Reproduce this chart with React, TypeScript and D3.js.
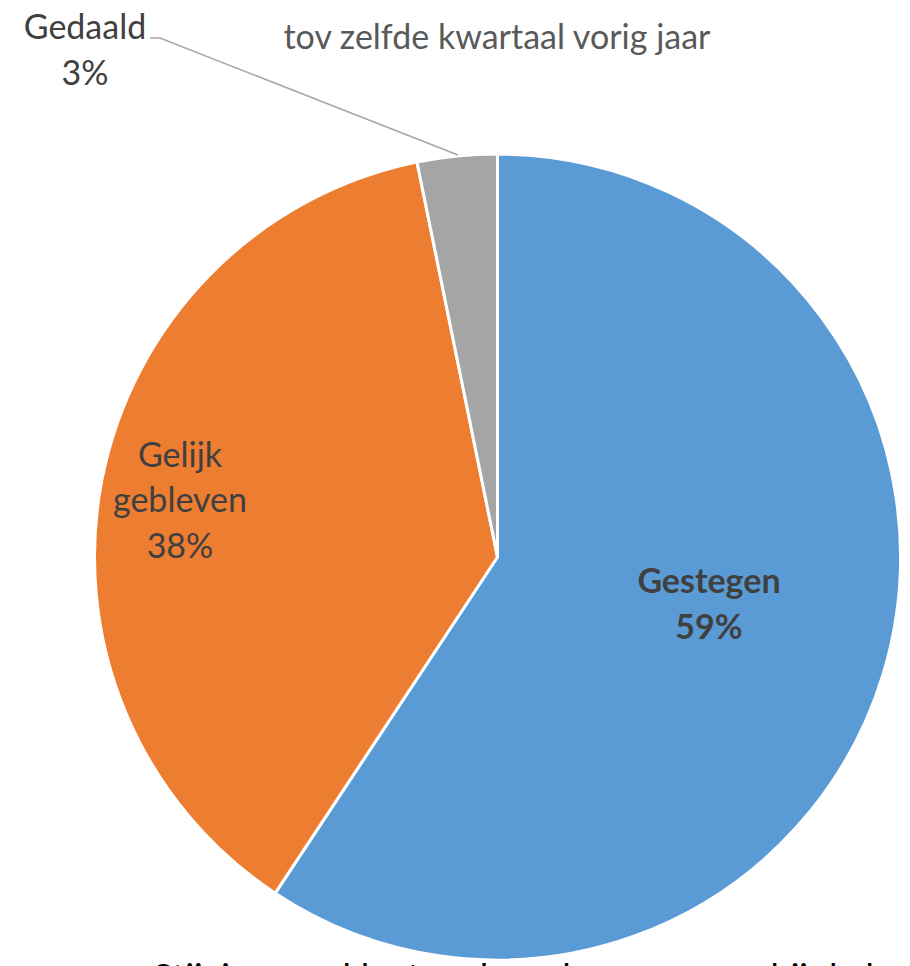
import React from "react";
import * as d3 from "d3";

const categories = ["Gestegen", "Gelijk gebleven", "Gedaald"];
const values = [59.3, 37.5, 3.2];
const labels = ["59%", "38%", "3%"];
const colors = ["#5B9BD5", "#ED7D31", "#A5A5A5"];
const title = "tov zelfde kwartaal vorig jaar";
const footer = "Stijging van klanten door de aanvragen bij de handel";

export default function App() {
  const W = 910, H = 966;
  const cx = 497.5, cy = 557, r = 403;
  const pie = d3.pie<number>().sort(null).value((d) => d);
  const arcs = pie(values);
  const arcGen = d3.arc<d3.PieArcDatum<number>>().innerRadius(0).outerRadius(r);
  const font = "Lato, Carlito, Calibri, sans-serif";
  const fs = 34;
  return (
    <svg width={W} height={H} style={{ position: "absolute", left: 0, top: 0, display: "block" }}>
      <rect width={W} height={H} fill="#fff" />
      <g transform={`translate(${cx},${cy})`}>
        {arcs.map((a, i) => (
          <path key={i} d={arcGen(a) || ""} fill={colors[i]} stroke="#fff" strokeWidth={3} strokeLinejoin="round" />
        ))}
      </g>
      <text x={497} y={49} textAnchor="middle" fontFamily={font} fontSize={fs} fill="#595959">{title}</text>
      {/* Gedaald label with leader line */}
      <polyline points="458,155 160,38 150,38" fill="none" stroke="#A6A6A6" strokeWidth={1.5} />
      <text x={85} y={39} textAnchor="middle" fontFamily={font} fontSize={fs} fill="#404040">{categories[2]}</text>
      <text x={85} y={85} textAnchor="middle" fontFamily={font} fontSize={fs} fill="#404040">{labels[2]}</text>
      {/* Gelijk gebleven */}
      <text textAnchor="middle" fontFamily={font} fontSize={fs} fill="#404040">
        <tspan x={180} y={467}>Gelijk</tspan>
        <tspan x={180} y={512}>gebleven</tspan>
        <tspan x={180} y={558}>{labels[1]}</tspan>
      </text>
      {/* Gestegen */}
      <text textAnchor="middle" fontFamily={font} fontSize={fs} fontWeight="bold" fill="#404040">
        <tspan x={709} y={593}>{categories[0]}</tspan>
        <tspan x={709} y={639}>{labels[0]}</tspan>
      </text>
      <text x={153} y={990} fontFamily={font} fontSize={36} fill="#000">{footer}</text>
    </svg>
  );
}
